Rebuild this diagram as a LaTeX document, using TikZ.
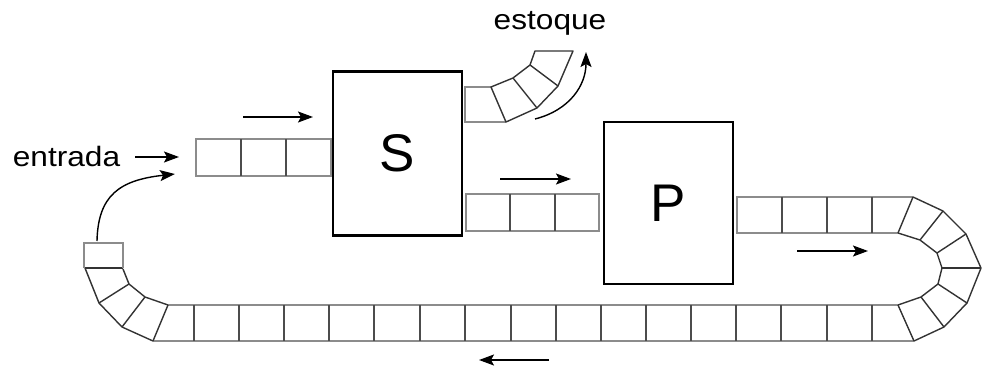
\documentclass[tikz,border=0pt]{standalone}
\usepackage{fontspec}
\setmainfont{Liberation Sans}
\usetikzlibrary{arrows.meta}
\begin{document}
\begin{tikzpicture}[x=1pt,y=-1pt,
  machine/.style={draw=black,line width=2.4pt,inner sep=0},
  cellh/.style={draw=black!45,line width=1.3pt},
  cellv/.style={draw=black!70,line width=1.4pt},
  bent/.style={draw=black!80,line width=1.4pt,line join=round},
  flow/.style={line width=1.4pt,-{Stealth[length=15pt,width=11pt,inset=3pt]}},
  lbl/.style={font=\fontsize{28}{32}\selectfont,xscale=1.13,inner sep=0,anchor=base}
]
\useasboundingbox (0,0) rectangle (989,367);

% machines
\node[machine,minimum width=129pt,minimum height=164pt,font=\fontsize{53}{60}\selectfont] (S) at (397.5,153.5) {S};
\node[machine,minimum width=129pt,minimum height=162pt,font=\fontsize{53}{60}\selectfont] (P) at (668.5,203) {P};

% labels
\node[lbl] (entrada) at (66.5,166) {entrada};
\node[lbl] (estoque) at (550,29) {estoque};

% input queue
\draw[cellh] (196,139) rectangle (331,176);
\foreach \x in {241,286} \draw[cellv] (\x,139) -- (\x,176);

% middle queue
\draw[cellh] (466,194) rectangle (599,231);
\foreach \x in {510,555} \draw[cellv] (\x,194) -- (\x,231);

% right queue (top row)
\draw[cellh] (913,197) -- (737,197) -- (737,233) -- (898,233);
\foreach \x in {782,827,872} \draw[cellv] (\x,197) -- (\x,233);

% bottom row
\draw[cellh] (168,305) -- (898,305);
\draw[cellh] (153,341) -- (914,341);
\foreach \x in {194,239,284,329,374,420,465,511,556,601,646,691,736,781,827,872}
  \draw[cellv] (\x,305) -- (\x,341);

% right U-turn
\draw[bent] (913,197) -- (943,211) -- (966,234) -- (981,268) -- (967,303) -- (944,327) -- (914,341);
\draw[bent] (898,233) -- (920,240) -- (937,253) -- (942,268) -- (938,284) -- (921,297) -- (898,305);
\draw[bent] (913,197) -- (898,233);
\draw[bent] (943,211) -- (920,240);
\draw[bent] (966,234) -- (937,253);
\draw[bent] (981,268) -- (942,268);
\draw[bent] (967,303) -- (938,284);
\draw[bent] (944,327) -- (921,297);
\draw[bent] (914,341) -- (898,305);

% left bend
\draw[bent] (153,341) -- (122,327) -- (99,303) -- (85,268);
\draw[bent] (168,305) -- (145,297) -- (129,284) -- (123,269);
\draw[bent] (153,341) -- (168,305);
\draw[bent] (122,327) -- (145,297);
\draw[bent] (99,303) -- (129,284);
\draw[bent] (85,268) -- (123,268);
\draw[cellh] (84,268) -- (84,243) -- (123,243) -- (123,268);

% estoque branch
\draw[cellh] (491,87) -- (465,87) -- (465,122) -- (506,122);
\draw[bent] (491,87) -- (513,78) -- (530,65) -- (535,51) -- (573,51) -- (558,86) -- (537,108) -- (506,122) -- cycle;
\draw[bent] (513,78) -- (537,108);
\draw[bent] (530,65) -- (558,86);

% arrows
\coordinate (a1s) at (243,117); \coordinate (a1e) at (313,117);
\draw[flow] (a1s) -- (a1e);
\coordinate (a2s) at (135,157); \coordinate (a2e) at (179,157);
\draw[flow] (a2s) -- (a2e);
\coordinate (a3s) at (97,241); \coordinate (a3e) at (175,174);
\draw[flow] (a3s) .. controls (98,195) and (120,180) .. (a3e);
\coordinate (a4s) at (500,179); \coordinate (a4e) at (571,179);
\draw[flow] (a4s) -- (a4e);
\coordinate (a5s) at (797,251); \coordinate (a5e) at (868,251);
\draw[flow] (a5s) -- (a5e);
\coordinate (a6s) at (549,360); \coordinate (a6e) at (479,360);
\draw[flow] (a6s) -- (a6e);
\coordinate (a7s) at (535,119); \coordinate (a7e) at (586,52);
\draw[flow] (a7s) .. controls (570,110) and (586,85) .. (a7e);
\end{tikzpicture}
\end{document}
